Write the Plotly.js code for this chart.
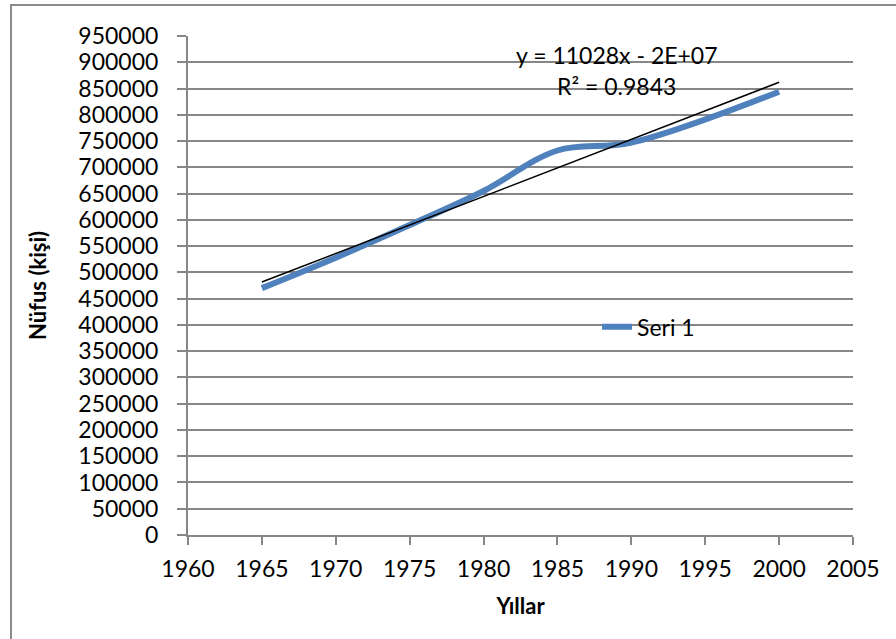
<!DOCTYPE html>
<html>
<head>
<meta charset="utf-8">
<script src="https://cdn.plot.ly/plotly-3.0.1.min.js"></script>
<style>
  body { margin: 0; background: #fff; }
  #myPlot { position: absolute; left: 0; top: 0; width: 896px; height: 639px; }
  #frame { position: absolute; left: 10px; top: 4px; width: 900px; height: 660px;
           border-left: 2px solid #8c8c8c; border-top: 2px solid #8c8c8c; pointer-events: none; }
</style>
</head>
<body>
<div id="myPlot"></div>
<div id="frame"></div>
<script>
// census years and population
var years = [1965, 1970, 1975, 1980, 1985, 1990, 2000];
var nufus = [470000, 528000, 590000, 655000, 732000, 747000, 844000];

var seriesName = "Seri 1";
var eqText = "y = 11028x - 2E+07";
var r2Text = "R² = 0.9843";
var xTitle = "Yıllar";
var yTitle = "Nüfus (kişi)";

// linear trend line (least squares) from the data
var n = years.length;
var xMean = years.reduce(function(a, b){return a + b;}, 0) / n;
var yMean = nufus.reduce(function(a, b){return a + b;}, 0) / n;
var sxy = 0, sxx = 0;
for (var i = 0; i < n; i++) {
  sxy += (years[i] - xMean) * (nufus[i] - yMean);
  sxx += (years[i] - xMean) * (years[i] - xMean);
}
var slope = sxy / sxx;
var icpt = yMean - slope * xMean;
var trendX = [years[0], years[n - 1]];
var trendY = trendX.map(function(x){return slope * x + icpt;});

var fnt = "Lato, 'Open Sans', sans-serif";

var data = [
  {x: years, y: nufus, mode: "lines", name: seriesName,
   line: {color: "#4f81bd", width: 6, shape: "spline", smoothing: 1}},
  {x: trendX, y: trendY, mode: "lines", showlegend: false, hoverinfo: "skip",
   line: {color: "#000", width: 1.5}}
];

var layout = {
  width: 896, height: 639,
  margin: {l: 188, r: 43, t: 36, b: 104},
  paper_bgcolor: "#fff", plot_bgcolor: "#fff",
  font: {family: fnt, size: 23, color: "#000"},
  xaxis: {
    range: [1960, 2005], dtick: 5, tick0: 1960,
    showgrid: false, zeroline: false,
    showline: true, linecolor: "#868686", linewidth: 2,
    ticks: "outside", ticklen: 8, tickcolor: "#868686", tickwidth: 2,
    ticklabelstandoff: 4,
    title: {text: "<b>" + xTitle + "</b>", standoff: 18, font: {size: 22}}
  },
  yaxis: {
    range: [0, 950000], dtick: 50000, tick0: 0,
    showgrid: true, gridcolor: "#868686", gridwidth: 2,
    zeroline: false,
    showline: true, linecolor: "#868686", linewidth: 2,
    ticks: "outside", ticklen: 9, tickcolor: "#868686", tickwidth: 2,
    ticklabelstandoff: 14,
    tickformat: "d",
    title: {text: "<b>" + yTitle + "</b>", standoff: 26, font: {size: 22}}
  },
  showlegend: true,
  legend: {x: 0.615, y: 0.417, xanchor: "left", yanchor: "middle",
           bgcolor: "rgba(0,0,0,0)", font: {size: 23}},
  annotations: [
    {xref: "paper", yref: "paper", x: 0.645, y: 0.962, text: eqText,
     showarrow: false, xanchor: "center", yanchor: "middle", font: {size: 23}},
    {xref: "paper", yref: "paper", x: 0.645, y: 0.9, text: r2Text,
     showarrow: false, xanchor: "center", yanchor: "middle", font: {size: 23}}
  ]
};

Plotly.newPlot("myPlot", data, layout, {displayModeBar: false, staticPlot: true});
</script>
</body>
</html>
